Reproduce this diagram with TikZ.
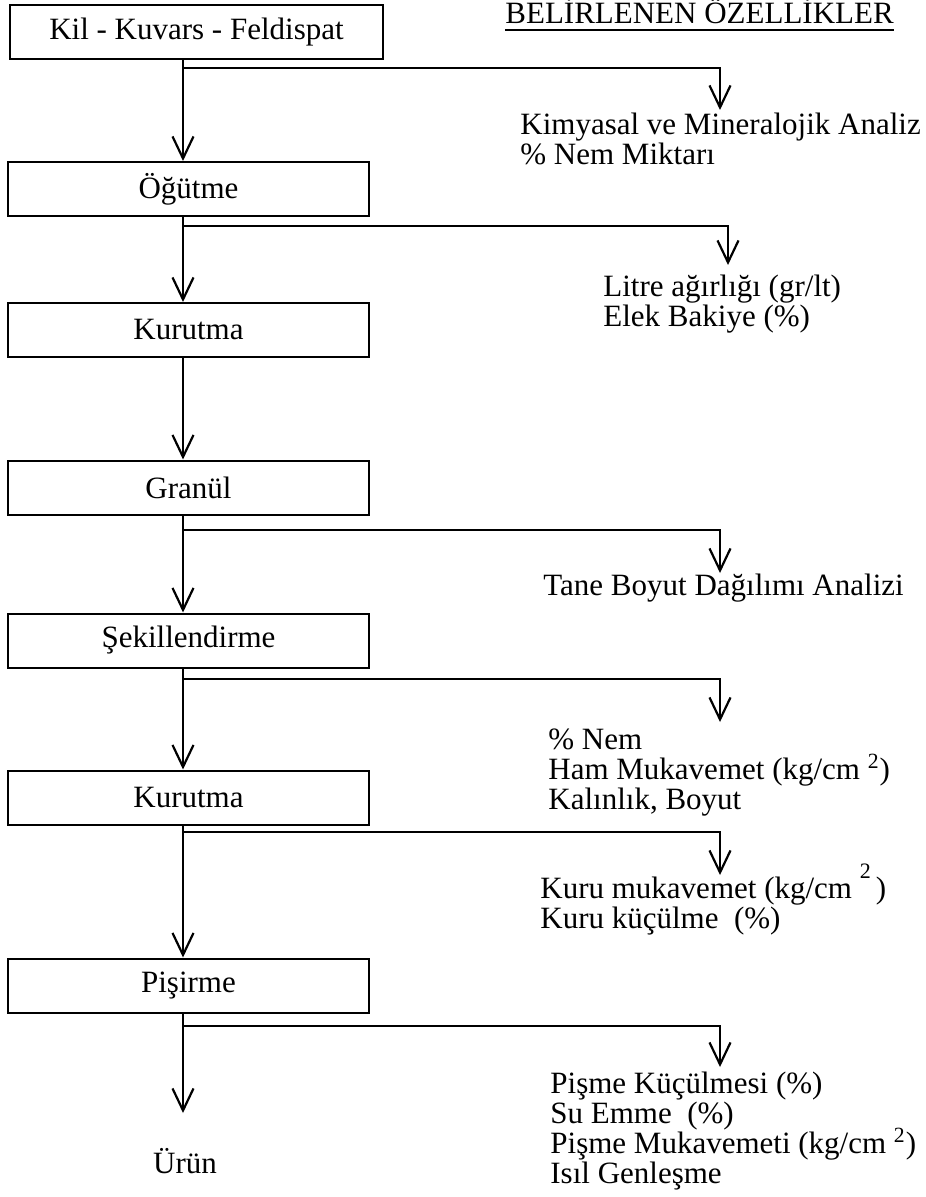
\documentclass[tikz,border=0pt]{standalone}
\usepackage{fontspec}
\setmainfont{Liberation Serif}
\usetikzlibrary{positioning, arrows.meta}

\newcommand{\sikisatir}{\lineskiplimit=-100pt\relax}

\tikzset{
  kutu/.style={draw, line width=1pt, minimum width=180.5pt, minimum height=27pt, inner sep=0pt},
  akis/.style={line width=1.1pt, -{Straight Barb[length=11pt, width=10.5pt, line width=1.1pt]}},
  yazi/.style={anchor=base west, align=left, inner sep=0pt, font=\fontsize{15.5}{15}\selectfont\sikisatir},
}

\begin{document}
\begin{tikzpicture}[x=0.5pt, y=-0.5pt, font=\fontsize{15.5}{15}\selectfont]
\useasboundingbox (0,0) rectangle (925,1197);

\coordinate (M) at (183,0);

% process boxes
\node[kutu, minimum width=186.5pt] (K1) at (196.5,32) {Kil - Kuvars - Feldispat};
\node[kutu] (K2) at (188.5,189) {Öğütme};
\node[kutu] (K3) at (188.5,330) {Kurutma};
\node[kutu] (K4) at (188.5,487.5) {Granül};
\node[kutu] (K5) at (188.5,640.5) {Şekillendirme};
\node[kutu] (K6) at (188.5,797.5) {Kurutma};
\node[kutu] (K7) at (188.5,985.5) {Pişirme};
\node[anchor=base] (U) at (185,1173) {Ürün};
\coordinate (S) at (183,1113);

\node[anchor=base west, inner sep=0pt] (H) at (505,24) {BELİRLENEN ÖZELLİKLER};
\draw[line width=0.9pt] ([yshift=-3pt]H.base west) -- ([yshift=-3pt]H.base east);

% main flow
\draw[akis] (K1.south -| M) -- (K2.north -| M);
\draw[akis] (K2.south -| M) -- (K3.north -| M);
\draw[akis] (K3.south -| M) -- (K4.north -| M);
\draw[akis] (K4.south -| M) -- (K5.north -| M);
\draw[akis] (K5.south -| M) -- (K6.north -| M);
\draw[akis] (K6.south -| M) -- (K7.north -| M);
\draw[akis] (K7.south -| M) -- (S);

% measured properties (base = last line)
\node[yazi] (T1) at (520,165) {Kimyasal ve Mineralojik Analiz\\\% Nem Miktarı};
\node[yazi] (T2) at (603,327) {Litre ağırlığı (gr/lt)\\Elek Bakiye (\%)};
\node[yazi] (T3) at (543,595) {Tane Boyut Dağılımı Analizi};
\node[yazi] (T4) at (548,809) {\% Nem\\Ham Mukavemet (kg/cm \textsuperscript{2})\\Kalınlık, Boyut};
\node[yazi] (T5) at (540,928) {Kuru mukavemet (kg/cm \raisebox{0.62em}{\fontsize{11}{11}\selectfont 2}\,)\\Kuru küçülme~ (\%)};
\node[yazi] (T6) at (550,1183) {Pişme Küçülmesi (\%)\\Su Emme~ (\%)\\Pişme Mukavemeti (kg/cm \textsuperscript{2})\\Isıl Genleşme};

\coordinate (B1) at (183,68);   \coordinate (E1) at (720,110);
\coordinate (B2) at (183,226);  \coordinate (E2) at (728,265);
\coordinate (B3) at (183,530);  \coordinate (E3) at (720,573);
\coordinate (B4) at (183,679);  \coordinate (E4) at (720,722);
\coordinate (B5) at (183,832);  \coordinate (E5) at (720,875);
\coordinate (B6) at (183,1026); \coordinate (E6) at (720,1067);
\foreach \i in {1,...,6}
  \draw[akis] (B\i) -| (E\i);
\end{tikzpicture}
\end{document}
